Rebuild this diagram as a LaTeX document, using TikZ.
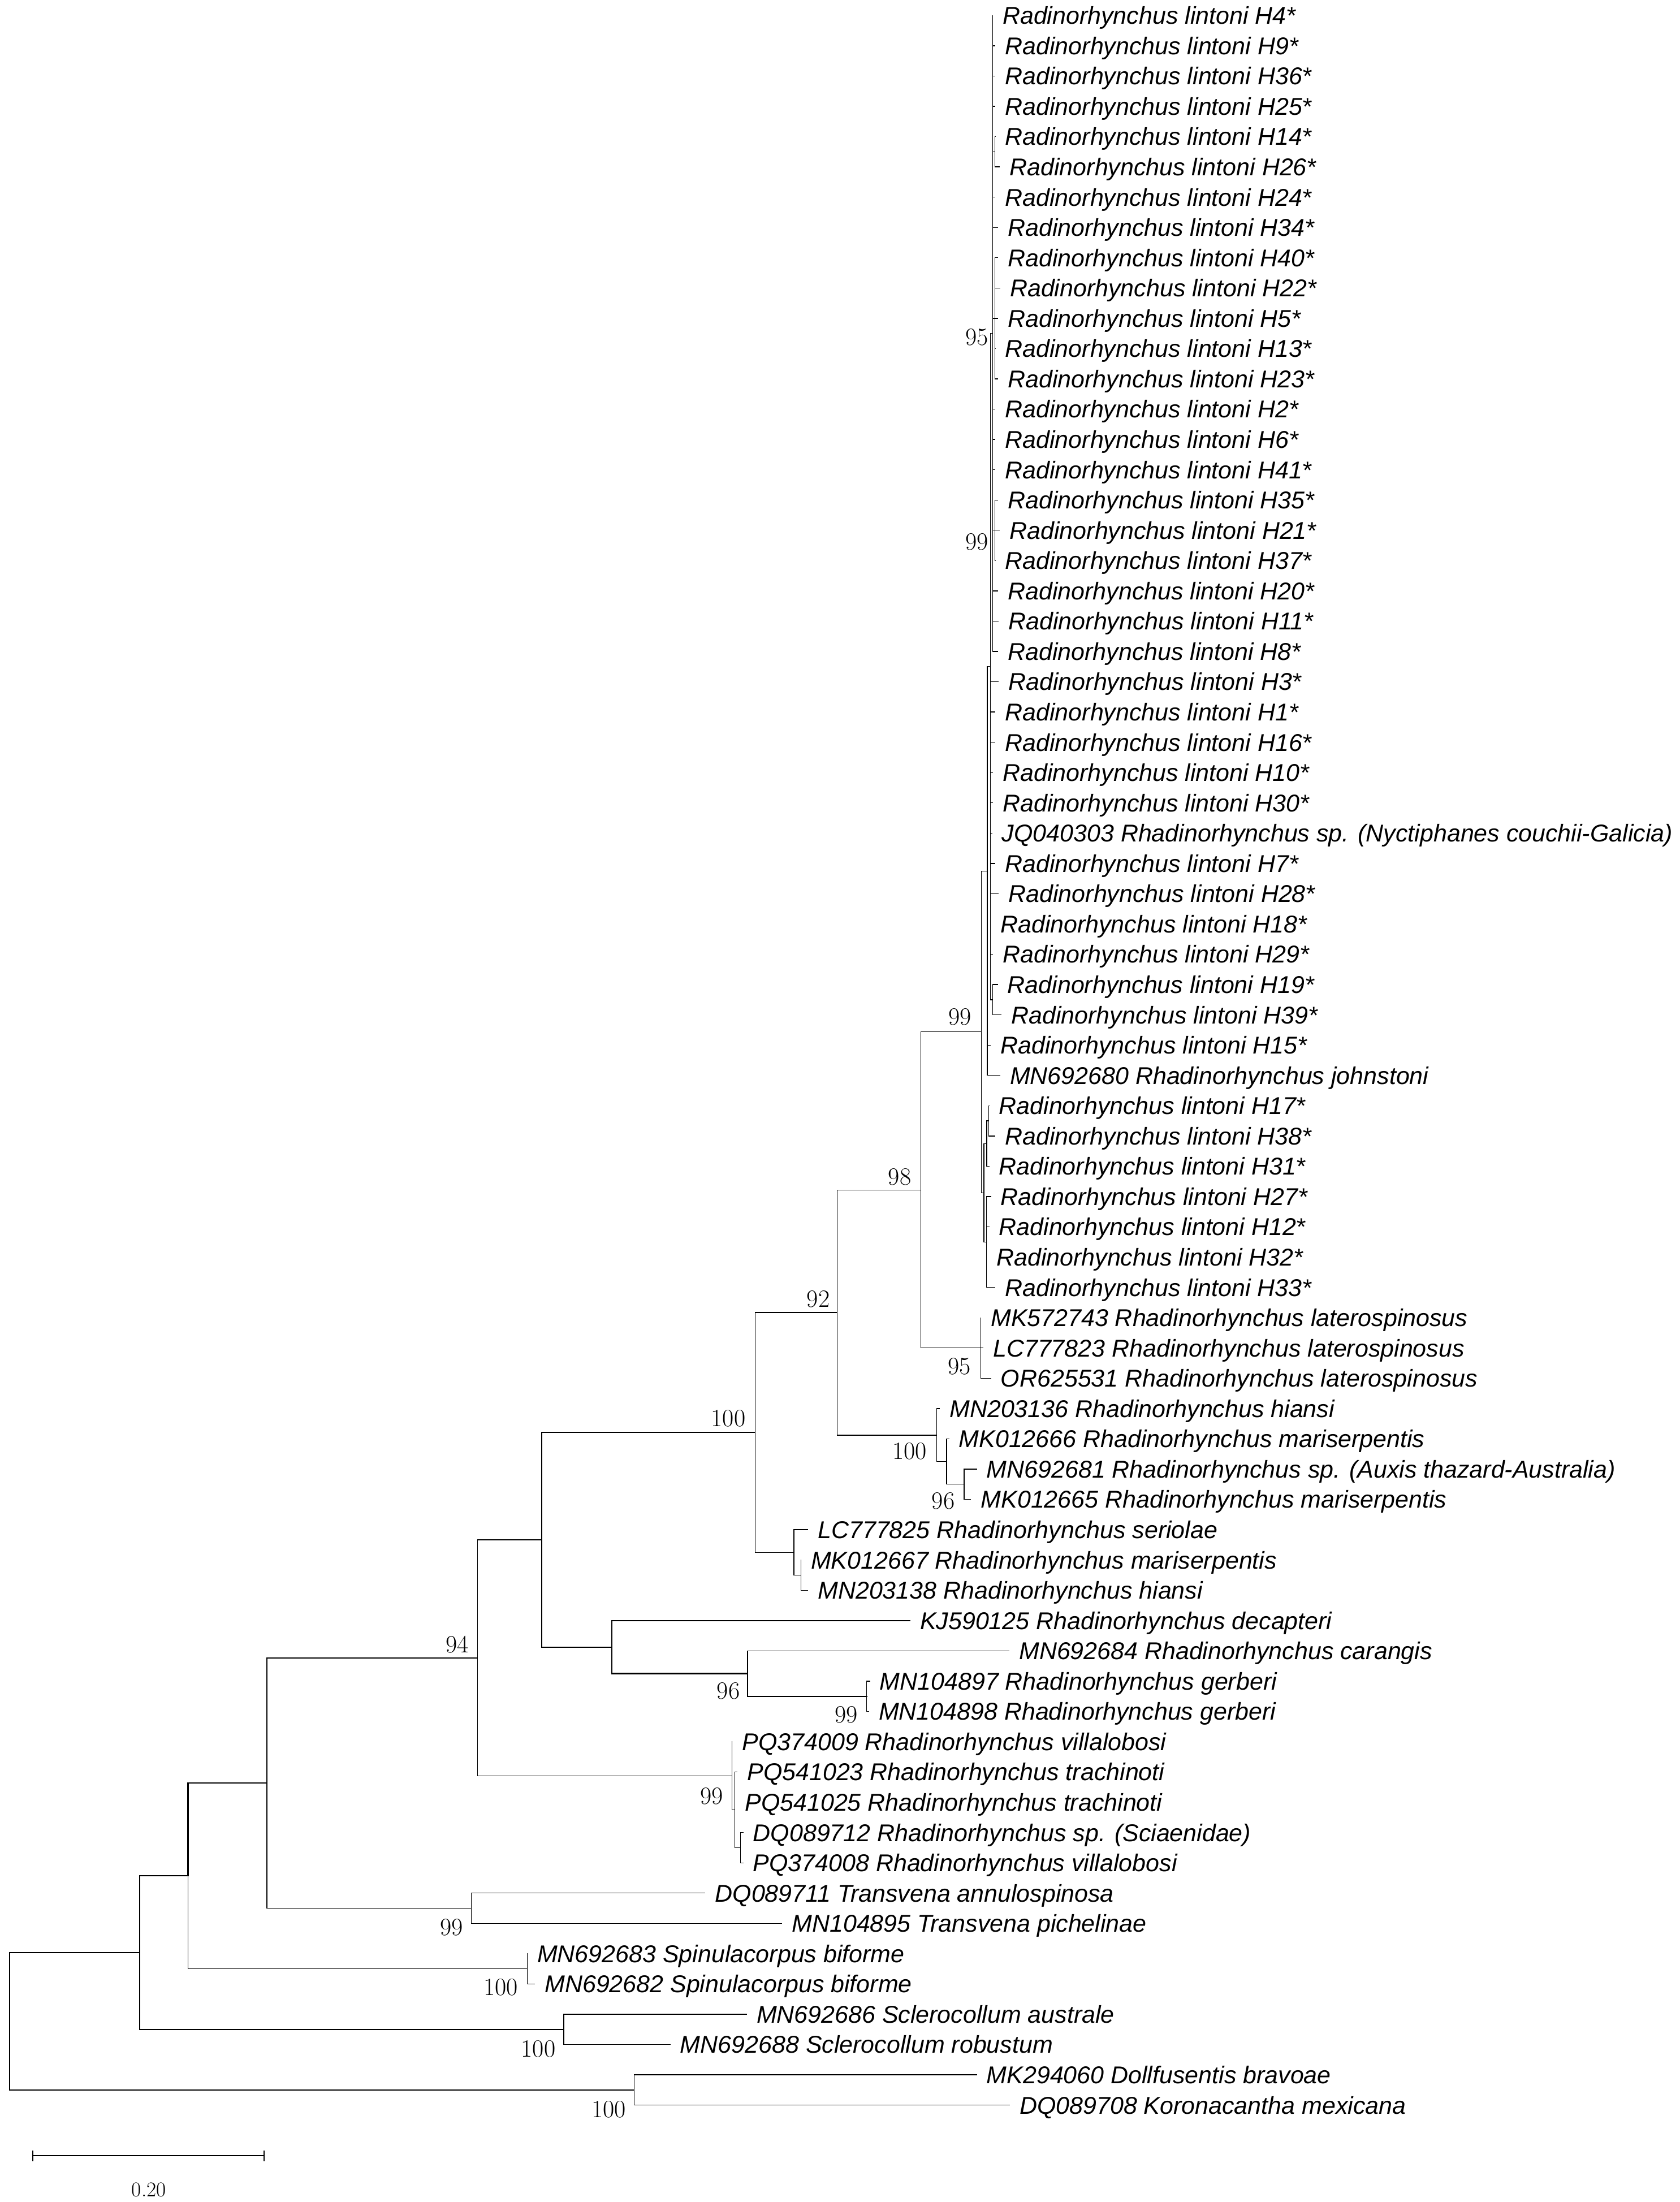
\documentclass[tikz,border=0pt]{standalone}
\usepackage{fontspec}
\newfontfamily\labfont{Liberation Sans}
\begin{document}
\begin{tikzpicture}[x=1pt,y=-1pt,
  br/.style={line width=0.55pt,line cap=rect},
  thk/.style={line width=0.85pt,line cap=rect},
  lab/.style={anchor=base west,inner sep=0pt,font=\labfont\itshape\fontsize{17.3}{20}\selectfont},
  bs/.style={anchor=base east,inner sep=0pt,font=\fontsize{17.7}{20}\selectfont}]
\useasboundingbox (0,0) rectangle (1196,1568);
\newcommand\leaf[3]{\coordinate (t#1) at (#2,{11+(#1-1)*21.565});
  \node[lab] (l#1) at ({#2+7},{17.2+(#1-1)*21.565}) {#3};}
% leaves
\leaf{1}{706.8}{Radinorhynchus lintoni H4*}
\leaf{2}{708.6}{Radinorhynchus lintoni H9*}
\leaf{3}{708.6}{Radinorhynchus lintoni H36*}
\leaf{4}{708.6}{Radinorhynchus lintoni H25*}
\leaf{5}{708.6}{Radinorhynchus lintoni H14*}
\leaf{6}{711.8}{Radinorhynchus lintoni H26*}
\leaf{7}{708.6}{Radinorhynchus lintoni H24*}
\leaf{8}{710.5}{Radinorhynchus lintoni H34*}
\leaf{9}{710.5}{Radinorhynchus lintoni H40*}
\leaf{10}{712.0}{Radinorhynchus lintoni H22*}
\leaf{11}{710.5}{Radinorhynchus lintoni H5*}
\leaf{12}{708.6}{Radinorhynchus lintoni H13*}
\leaf{13}{710.5}{Radinorhynchus lintoni H23*}
\leaf{14}{708.6}{Radinorhynchus lintoni H2*}
\leaf{15}{708.6}{Radinorhynchus lintoni H6*}
\leaf{16}{708.6}{Radinorhynchus lintoni H41*}
\leaf{17}{710.5}{Radinorhynchus lintoni H35*}
\leaf{18}{711.8}{Radinorhynchus lintoni H21*}
\leaf{19}{708.6}{Radinorhynchus lintoni H37*}
\leaf{20}{710.5}{Radinorhynchus lintoni H20*}
\leaf{21}{711.0}{Radinorhynchus lintoni H11*}
\leaf{22}{710.5}{Radinorhynchus lintoni H8*}
\leaf{23}{711.0}{Radinorhynchus lintoni H3*}
\leaf{24}{708.6}{Radinorhynchus lintoni H1*}
\leaf{25}{708.6}{Radinorhynchus lintoni H16*}
\leaf{26}{706.9}{Radinorhynchus lintoni H10*}
\leaf{27}{706.9}{Radinorhynchus lintoni H30*}
\leaf{28}{706.3}{JQ040303 Rhadinorhynchus sp. (Nyctiphanes couchii-Galicia)}
\leaf{29}{708.6}{Radinorhynchus lintoni H7*}
\leaf{30}{711.0}{Radinorhynchus lintoni H28*}
\leaf{31}{705.2}{Radinorhynchus lintoni H18*}
\leaf{32}{706.9}{Radinorhynchus lintoni H29*}
\leaf{33}{710.3}{Radinorhynchus lintoni H19*}
\leaf{34}{712.9}{Radinorhynchus lintoni H39*}
\leaf{35}{705.2}{Radinorhynchus lintoni H15*}
\leaf{36}{712.0}{MN692680 Rhadinorhynchus johnstoni}
\leaf{37}{704.2}{Radinorhynchus lintoni H17*}
\leaf{38}{708.5}{Radinorhynchus lintoni H38*}
\leaf{39}{704.2}{Radinorhynchus lintoni H31*}
\leaf{40}{705.5}{Radinorhynchus lintoni H27*}
\leaf{41}{704.2}{Radinorhynchus lintoni H12*}
\leaf{42}{702.4}{Radinorhynchus lintoni H32*}
\leaf{43}{708.5}{Radinorhynchus lintoni H33*}
\leaf{44}{698.4}{MK572743 Rhadinorhynchus laterospinosus}
\leaf{45}{700.0}{LC777823 Rhadinorhynchus laterospinosus}
\leaf{46}{705.5}{OR625531 Rhadinorhynchus laterospinosus}
\leaf{47}{669.0}{MN203136 Rhadinorhynchus hiansi}
\leaf{48}{675.6}{MK012666 Rhadinorhynchus mariserpentis}
\leaf{49}{695.4}{MN692681 Rhadinorhynchus sp. (Auxis thazard-Australia)}
\leaf{50}{691.3}{MK012665 Rhadinorhynchus mariserpentis}
\leaf{51}{575.2}{LC777825 Rhadinorhynchus seriolae}
\leaf{52}{570.3}{MK012667 Rhadinorhynchus mariserpentis}
\leaf{53}{575.2}{MN203138 Rhadinorhynchus hiansi}
\leaf{54}{648.0}{KJ590125 Rhadinorhynchus decapteri}
\leaf{55}{718.5}{MN692684 Rhadinorhynchus carangis}
\leaf{56}{619.3}{MN104897 Rhadinorhynchus gerberi}
\leaf{57}{618.6}{MN104898 Rhadinorhynchus gerberi}
\leaf{58}{521.3}{PQ374009 Rhadinorhynchus villalobosi}
\leaf{59}{524.9}{PQ541023 Rhadinorhynchus trachinoti}
\leaf{60}{523.3}{PQ541025 Rhadinorhynchus trachinoti}
\leaf{61}{529.1}{DQ089712 Rhadinorhynchus sp. (Sciaenidae)}
\leaf{62}{529.1}{PQ374008 Rhadinorhynchus villalobosi}
\leaf{63}{502.0}{DQ089711 Transvena annulospinosa}
\leaf{64}{556.7}{MN104895 Transvena pichelinae}
\leaf{65}{375.4}{MN692683 Spinulacorpus biforme}
\leaf{66}{380.7}{MN692682 Spinulacorpus biforme}
\leaf{67}{531.6}{MN692686 Sclerocollum australe}
\leaf{68}{477.2}{MN692688 Sclerocollum robustum}
\leaf{69}{695.4}{MK294060 Dollfusentis bravoae}
\leaf{70}{718.9}{DQ089708 Koronacantha mexicana}
% internal nodes
\coordinate (root) at (6.7,1439.3);
\coordinate (n99) at (99.5,1390.45);
\coordinate (n134) at (133.9,1335.8);
\coordinate (n190) at (190.0,1269.6);
\coordinate (n94) at (340.0,1180.45);
\coordinate (n386) at (385.8,1096.4);
\coordinate (n539) at (537.7,1020.0);
\coordinate (n597) at (596.2,934.6);
\coordinate (n655) at (655.8,847.3);
\coordinate (nT99) at (698.7,734.75);
\coordinate (ne) at (703.0,620.2);
\coordinate (nf) at (705.2,474.65);
\coordinate (n95) at (706.8,237.45);
\coordinate (na1) at (708.5,108.05);
\coordinate (na2) at (708.5,226.65);
\coordinate (na3) at (708.5,377.6);
\coordinate (nb39) at (706.8,711.85);
\coordinate (nc) at (700.7,849.3);
\coordinate (nb) at (702.7,814.3);
\coordinate (na) at (704.0,798.1);
\coordinate (nd) at (702.4,884.35);
\coordinate (nlat) at (698.4,959.85);
\coordinate (nh100) at (667.0,1021.9);
\coordinate (nm2) at (674.0,1040.75);
\coordinate (nm96) at (686.6,1056.9);
\coordinate (ns1) at (565.3,1105.4);
\coordinate (ns2) at (570.3,1121.6);
\coordinate (n436) at (435.8,1172.8);
\coordinate (n532) at (532.3,1191.7);
\coordinate (ngerb) at (617.2,1207.85);
\coordinate (nv1) at (521.3,1264.5);
\coordinate (nv2) at (523.3,1288.75);
\coordinate (nv3) at (527.3,1315.7);
\coordinate (ntr) at (335.6,1358.8);
\coordinate (nsp) at (375.4,1401.95);
\coordinate (nsc) at (401.4,1445.1);
\coordinate (ndk) at (451.5,1488.2);
% thin branches
\foreach \p/\c in {n95/t1,n95/t2,n95/t3,n95/t4,n95/na1,n95/t7,n95/t8,n95/na2,
  n95/t14,n95/t15,n95/t16,n95/na3,n95/t20,n95/t21,n95/t22,
  na1/t5,na1/t6,na2/t9,na2/t10,na2/t11,na2/t12,na2/t13,na3/t17,na3/t18,na3/t19,
  nf/n95,nf/t23,nf/t24,nf/t25,nf/t26,nf/t27,nf/t28,nf/t29,nf/t30,nf/t31,nf/t32,nf/nb39,
  nb39/t33,nb39/t34,ne/nf,ne/t35,ne/t36,
  na/t37,na/t38,nb/na,nb/t39,nd/t40,nd/t41,nd/t42,nd/t43,nc/nb,nc/nd,
  nT99/ne,nT99/nc,nlat/t44,nlat/t45,nlat/t46,n655/nT99,n655/nlat,
  nm96/t49,nm96/t50,nm2/t48,nm2/nm96,nh100/t47,nh100/nm2,n597/n655,n597/nh100,
  ns2/t52,ns2/t53,ns1/t51,ns1/ns2,n539/n597,n539/ns1,
  ngerb/t56,ngerb/t57,n532/t55,
  nv3/t61,nv3/t62,nv2/t59,nv2/t60,nv2/nv3,nv1/t58,nv1/nv2,n94/n386,n94/nv1,
  ntr/t63,ntr/t64,n190/ntr,nsp/t65,nsp/t66,n134/nsp,nsc/t68,ndk/t69,ndk/t70}
  \draw[br] (\p) |- (\c);
% thick branches
\foreach \p/\c in {root/n99,root/ndk,n99/n134,n99/nsc,nsc/t67,n134/n190,n190/n94,
  n386/n539,n386/n436,n436/t54,n436/n532,n532/ngerb}
  \draw[thk] (\p) |- (\c);
% bootstrap values
\node[bs] (b1) at (704,245.7) {95};
\node[bs] (b2) at (704,391.7) {99};
\node[bs] (b3) at (692,729.7) {99};
\node[bs] (b4) at (649,843.7) {98};
\node[bs] (b5) at (691.6,978.7) {95};
\node[bs] (b6) at (591,930.7) {92};
\node[bs] (b7) at (660,1039.2) {100};
\node[bs] (b8) at (680,1074.7) {96};
\node[bs] (b9) at (531,1015.7) {100};
\node[bs] (b10) at (334,1176.7) {94};
\node[bs] (b11) at (527,1209.7) {96};
\node[bs] (b12) at (611,1226.7) {99};
\node[bs] (b13) at (515,1284.7) {99};
\node[bs] (b14) at (330,1378.2) {99};
\node[bs] (b15) at (369,1420.7) {100};
\node[bs] (b16) at (395.7,1464.7) {100};
\node[bs] (b17) at (445.8,1507.7) {100};
% scale bar
\coordinate (sbl) at (23.4,1535);
\coordinate (sbr) at (188,1535);
\draw[thk,line cap=butt] (sbl) -- (sbr);
\draw[br,line cap=butt] ([yshift=3.5pt]sbl) -- ([yshift=-4pt]sbl);
\draw[br,line cap=butt] ([yshift=3.5pt]sbr) -- ([yshift=-4pt]sbr);
\node[anchor=base,inner sep=0pt,font=\fontsize{15}{18}\selectfont] (sbt) at (106,1564) {0.20};
\end{tikzpicture}
\end{document}
